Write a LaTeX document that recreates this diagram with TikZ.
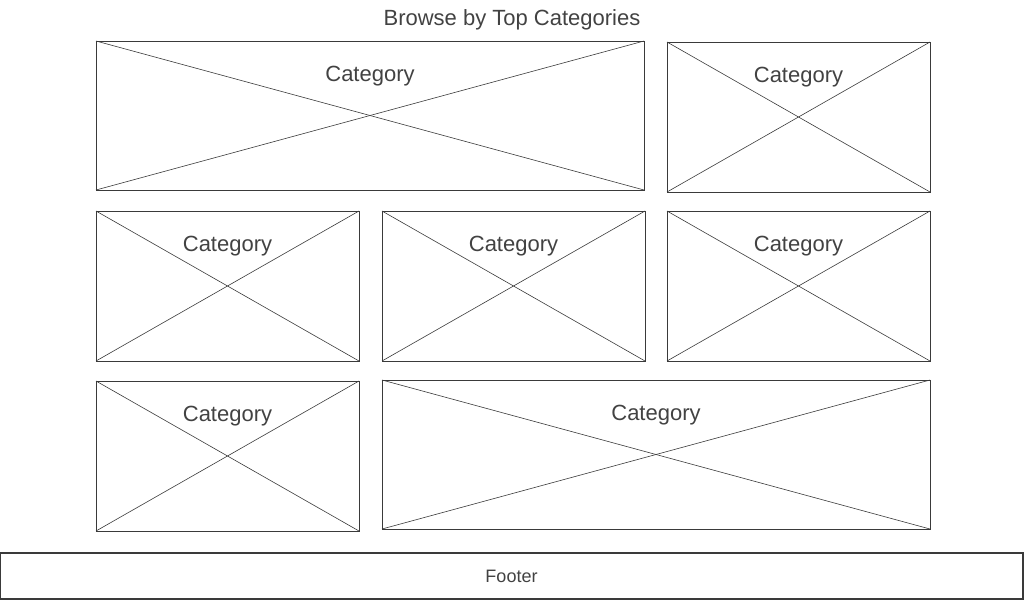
\documentclass[tikz,border=0pt]{standalone}
\usepackage{fontspec}
\setmainfont{Liberation Sans}
\usepackage{tikz}
\usetikzlibrary{positioning}
\definecolor{wire}{HTML}{3A3A3A}
\definecolor{ink}{HTML}{424242}
\tikzstyle{tile} = [rectangle, draw=wire, line width=0.6pt, inner sep=0pt, outer sep=0pt, minimum width=197.25pt, minimum height=112.5pt]
\tikzstyle{wide_tile} = [tile, minimum width=411pt, minimum height=111.75pt]
\tikzstyle{caption} = [inner sep=0pt, text=ink, font=\fontsize{16.5}{18}\selectfont, anchor=north]
\tikzstyle{cross} = [draw=wire, line width=0.45pt]
\tikzstyle{footer} = [rectangle, draw=wire, line width=0.9pt, inner sep=0pt, minimum width=767.25pt, minimum height=34.5pt, text=ink, font=\fontsize{13.5}{15}\selectfont]

\begin{document}
\begin{tikzpicture}[x=0.75pt, y=-0.75pt]
    \useasboundingbox (0,0) rectangle (1024,600);
    \node (title) [text=ink, font=\fontsize{16.5}{18}\selectfont, inner sep=0pt, anchor=base] at (512,25) {Browse by Top Categories};

    % first row
    \node (cat_a) [wide_tile] at (370,115.5) {};
    \node (cat_b) [tile] at (798.5,117) {};
    % second row
    \node (cat_c) [tile] at (227.5,286) {};
    \node (cat_d) [tile] at (513.5,286) {};
    \node (cat_e) [tile] at (798.5,286) {};
    % third row
    \node (cat_f) [tile] at (227.5,456) {};
    \node (cat_g) [wide_tile] at (656,454.5) {};

    \foreach \t in {cat_a, cat_b, cat_c, cat_d, cat_e, cat_f, cat_g} {
        \draw [cross] (\t.north west) -- (\t.south east);
        \draw [cross] (\t.south west) -- (\t.north east);
        \node (\t_label) [caption, below=18.75pt of \t.north] {Category};
    }

    \node (footer) [footer] at (511.5,576) {Footer};
\end{tikzpicture}
\end{document}
